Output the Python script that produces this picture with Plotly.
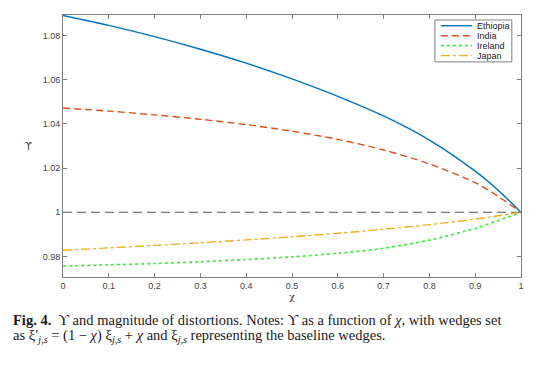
import plotly.graph_objects as go

chi = [0.0, 0.1, 0.2, 0.3, 0.4, 0.5, 0.6, 0.7, 0.8, 0.9, 0.95, 1.0]
ethiopia = [1.0891, 1.0846, 1.0795, 1.0738, 1.0675, 1.0604, 1.0525, 1.0436, 1.0327, 1.0186, 1.0100, 1.0]
india = [1.0472, 1.0458, 1.0441, 1.0421, 1.0397, 1.0367, 1.0330, 1.0282, 1.0219, 1.0134, 1.0072, 1.0]
ireland = [0.9756, 0.9762, 0.9768, 0.9776, 0.9786, 0.9798, 0.9814, 0.9837, 0.9874, 0.9927, 0.9962, 1.0]
japan = [0.9828, 0.9839, 0.9850, 0.9862, 0.9875, 0.9889, 0.9905, 0.9923, 0.9944, 0.9969, 0.9984, 1.0]
baseline_x = [0.0, 1.0]
baseline_y = [1.0, 1.0]

series_names = ["Ethiopia", "India", "Ireland", "Japan"]
series_values = [ethiopia, india, ireland, japan]

x_ticks = [0, 0.1, 0.2, 0.3, 0.4, 0.5, 0.6, 0.7, 0.8, 0.9, 1]
x_ticklabels = ["0", "0.1", "0.2", "0.3", "0.4", "0.5", "0.6", "0.7", "0.8", "0.9", "1"]
y_ticks = [0.98, 1.0, 1.02, 1.04, 1.06, 1.08]
y_ticklabels = ["0.98", "1", "1.02", "1.04", "1.06", "1.08"]

colors = ["#0072BD", "#D95319", "#33EE33", "#EDB120"]
dashes = ["solid", "7px,4px", "dot", "dashdot"]
widths = [1.4, 1.4, 1.6, 1.4]

fig = go.Figure()
fig.add_trace(go.Scatter(x=baseline_x, y=baseline_y, mode="lines", showlegend=False,
                         line=dict(color="#555555", width=1.2, dash="9px,5px"), hoverinfo="skip"))
for name, vals, c, d, w in zip(series_names, series_values, colors, dashes, widths):
    fig.add_trace(go.Scatter(x=chi, y=vals, name=name, mode="lines", showlegend=False,
                             line=dict(color=c, width=w, dash=d, shape="spline", smoothing=0.8)))

axis_common = dict(showline=True, linecolor="#7f7f7f", linewidth=1, mirror="ticks",
                   ticks="inside", ticklen=4, tickcolor="#7f7f7f", showgrid=False, zeroline=False,
                   tickfont=dict(family="Liberation Sans, Arial", size=9, color="#444444"))

# page body has an 8px margin, so the figure is drawn 8px smaller and shifted
fig.update_layout(
    width=541, height=357,
    margin=dict(l=55, r=28, t=7, b=88),
    paper_bgcolor="white", plot_bgcolor="white",
    xaxis=dict(range=[0, 1], tickvals=x_ticks, ticktext=x_ticklabels, **axis_common),
    yaxis=dict(range=[0.9707, 1.0893], tickvals=y_ticks, ticktext=y_ticklabels, **axis_common),
    showlegend=False,
)

# compact legend box (MATLAB style)
fig.add_shape(type="rect", xref="paper", yref="paper", x0=0.812, x1=0.980, y0=0.821, y1=0.981,
              line=dict(color="#7f7f7f", width=1), fillcolor="white", layer="above")
row_y = [0.959, 0.921, 0.883, 0.845]
for name, c, d, w, yy in zip(series_names, colors, dashes, widths, row_y):
    fig.add_shape(type="line", xref="paper", yref="paper", x0=0.825, x1=0.893, y0=yy, y1=yy,
                  line=dict(color=c, width=w, dash=d), layer="above")
    fig.add_annotation(xref="paper", yref="paper", x=0.899, y=yy, text=name, showarrow=False,
                       xanchor="left", yanchor="middle",
                       font=dict(family="Liberation Sans, Arial", size=9, color="#222222"))

annots = [
    dict(xref="paper", yref="paper", x=-0.076, y=0.5, text="ϒ", showarrow=False,
         font=dict(family="DejaVu Sans", size=10, color="#444444"), xanchor="center", yanchor="middle"),
    dict(xref="paper", yref="paper", x=0.5, y=-0.076, text="χ", showarrow=False,
         font=dict(family="DejaVu Serif", size=10, color="#444444"), xanchor="center", yanchor="middle"),
    dict(xref="paper", yref="paper", x=-0.113, y=-0.166, xanchor="left", yanchor="middle", align="left",
         text="<b>Fig. 4.</b>  ϒ and magnitude of distortions. Notes: ϒ as a function of <i>χ</i>, with wedges set",
         showarrow=False, font=dict(family="Liberation Serif, Times New Roman", size=14.5, color="#1a1a1a")),
    dict(xref="paper", yref="paper", x=-0.113, y=-0.227, xanchor="left", yanchor="middle", align="left",
         text="as ξ′<sub><i>j,s</i></sub> = (1 − <i>χ</i>) ξ<sub><i>j,s</i></sub> + <i>χ</i> and ξ<sub><i>j,s</i></sub> representing the baseline wedges.",
         showarrow=False, font=dict(family="Liberation Serif, Times New Roman", size=14.5, color="#1a1a1a")),
]
for a in annots:
    fig.add_annotation(**a)

fig.write_html("out.html")
